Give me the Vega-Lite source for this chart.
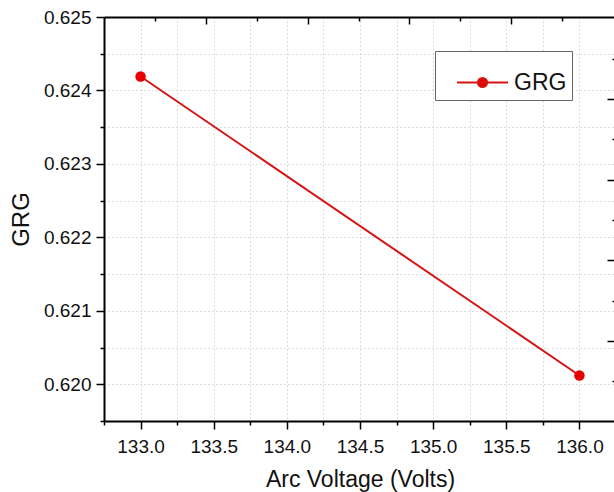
{
  "$schema": "https://vega.github.io/schema/vega-lite/v6.json",
  "width": 512,
  "height": 404,
  "autosize": {"type": "none"},
  "padding": {"left": 104, "top": 17, "right": 0, "bottom": 71},
  "background": "white",
  "config": {
    "view": {"stroke": null},
    "font": "Liberation Sans",
    "axis": {
      "domainColor": "#000000",
      "domainWidth": 2,
      "tickColor": "#000000",
      "tickWidth": 1.5,
      "labelFont": "Liberation Sans",
      "labelFontSize": 19,
      "labelColor": "#111111",
      "titleFont": "Liberation Sans",
      "titleFontSize": 23,
      "titleFontWeight": "normal",
      "titleColor": "#111111",
      "gridColor": "#bdbdbd",
      "gridDash": [1, 3],
      "gridWidth": 1,
      "labelOverlap": false,
      "labelFlush": false
    }
  },
  "data": {
    "values": [
      {"voltage": 133.0, "grg": 0.62419, "series": "GRG"},
      {"voltage": 136.0, "grg": 0.62012, "series": "GRG"}
    ]
  },
  "layer": [
    {
      "mark": {"type": "line", "color": "#d41515", "strokeWidth": 2},
      "encoding": {
        "x": {
          "field": "voltage",
          "type": "quantitative",
          "scale": {"domain": [132.75, 136.25], "nice": false, "zero": false},
          "axis": {
            "orient": "bottom",
            "title": "Arc Voltage (Volts)",
            "titlePadding": 12,
            "values": [132.75, 133, 133.25, 133.5, 133.75, 134, 134.25, 134.5, 134.75, 135, 135.25, 135.5, 135.75, 136],
            "labelExpr": "datum.value % 0.5 == 0 ? format(datum.value, '.1f') : ''",
            "labelPadding": 8,
            "tickSize": {"condition": {"test": "datum.value % 0.5 != 0", "value": 4}, "value": 8},
            "grid": true
          }
        },
        "y": {
          "field": "grg",
          "type": "quantitative",
          "scale": {"domain": [0.6195, 0.625], "nice": false, "zero": false},
          "axis": {
            "orient": "left",
            "title": "GRG",
            "titleFontSize": 24,
            "titlePadding": 10,
            "values": [0.6195, 0.62, 0.6205, 0.621, 0.6215, 0.622, 0.6225, 0.623, 0.6235, 0.624, 0.6245, 0.625],
            "labelExpr": "round(datum.value * 2000) % 2 == 0 ? format(datum.value, '.3f') : ''",
            "labelPadding": 5,
            "tickSize": {"condition": {"test": "round(datum.value * 2000) % 2 == 1", "value": 4}, "value": 8},
            "grid": true
          }
        }
      }
    },
    {
      "mark": {"type": "point", "filled": true, "size": 110, "opacity": 1, "shape": "circle"},
      "encoding": {
        "x": {
          "field": "voltage",
          "type": "quantitative",
          "axis": {
            "orient": "top",
            "title": null,
            "labels": false,
            "grid": false,
            "values": [133.1, 133.447, 133.795, 134.143, 134.49, 134.838, 135.186, 135.534, 135.882],
            "tickSize": {"condition": {"test": "indexof([133.447, 134.143, 134.838, 135.534], datum.value) >= 0", "value": -7}, "value": -4}
          }
        },
        "y": {
          "field": "grg",
          "type": "quantitative",
          "axis": {
            "orient": "right",
            "title": null,
            "labels": false,
            "grid": false,
            "values": [0.624434, 0.623884, 0.623336, 0.622786, 0.622237, 0.621687, 0.621137, 0.620588, 0.620038],
            "tickSize": {"condition": {"test": "indexof([0.623884, 0.622786, 0.621687, 0.620588], datum.value) >= 0", "value": -9}, "value": -4}
          }
        },
        "color": {
          "field": "series",
          "type": "nominal",
          "scale": {"domain": ["GRG"], "range": ["#e80000"]},
          "legend": {
            "orient": "none",
            "legendX": 331,
            "legendY": 34,
            "title": null,
            "symbolType": "M-1,0H1M-0.18,0A0.18,0.18 0 1 1 0.18,0A0.18,0.18 0 1 1 -0.18,0",
            "symbolSize": 2601,
            "symbolStrokeWidth": 2,
            "symbolStrokeColor": "#d41515",
            "symbolFillColor": "#e80000",
            "symbolOpacity": 1,
            "labelFont": "Liberation Sans",
            "labelFontSize": 23,
            "labelColor": "#111111",
            "labelOffset": 5,
            "labelExpr": "datum.label + ' '",
            "strokeColor": "#666666",
            "fillColor": "white",
            "padding": 5,
            "symbolOffset": 16,
            "encode": {
              "symbols": {
                "update": {
                  "stroke": {"value": "#d41515"},
                  "strokeWidth": {"value": 2},
                  "fill": {"value": "#e80000"},
                  "opacity": {"value": 1}
                }
              }
            }
          }
        }
      }
    }
  ],
  "resolve": {"axis": {"x": "independent", "y": "independent"}}
}
